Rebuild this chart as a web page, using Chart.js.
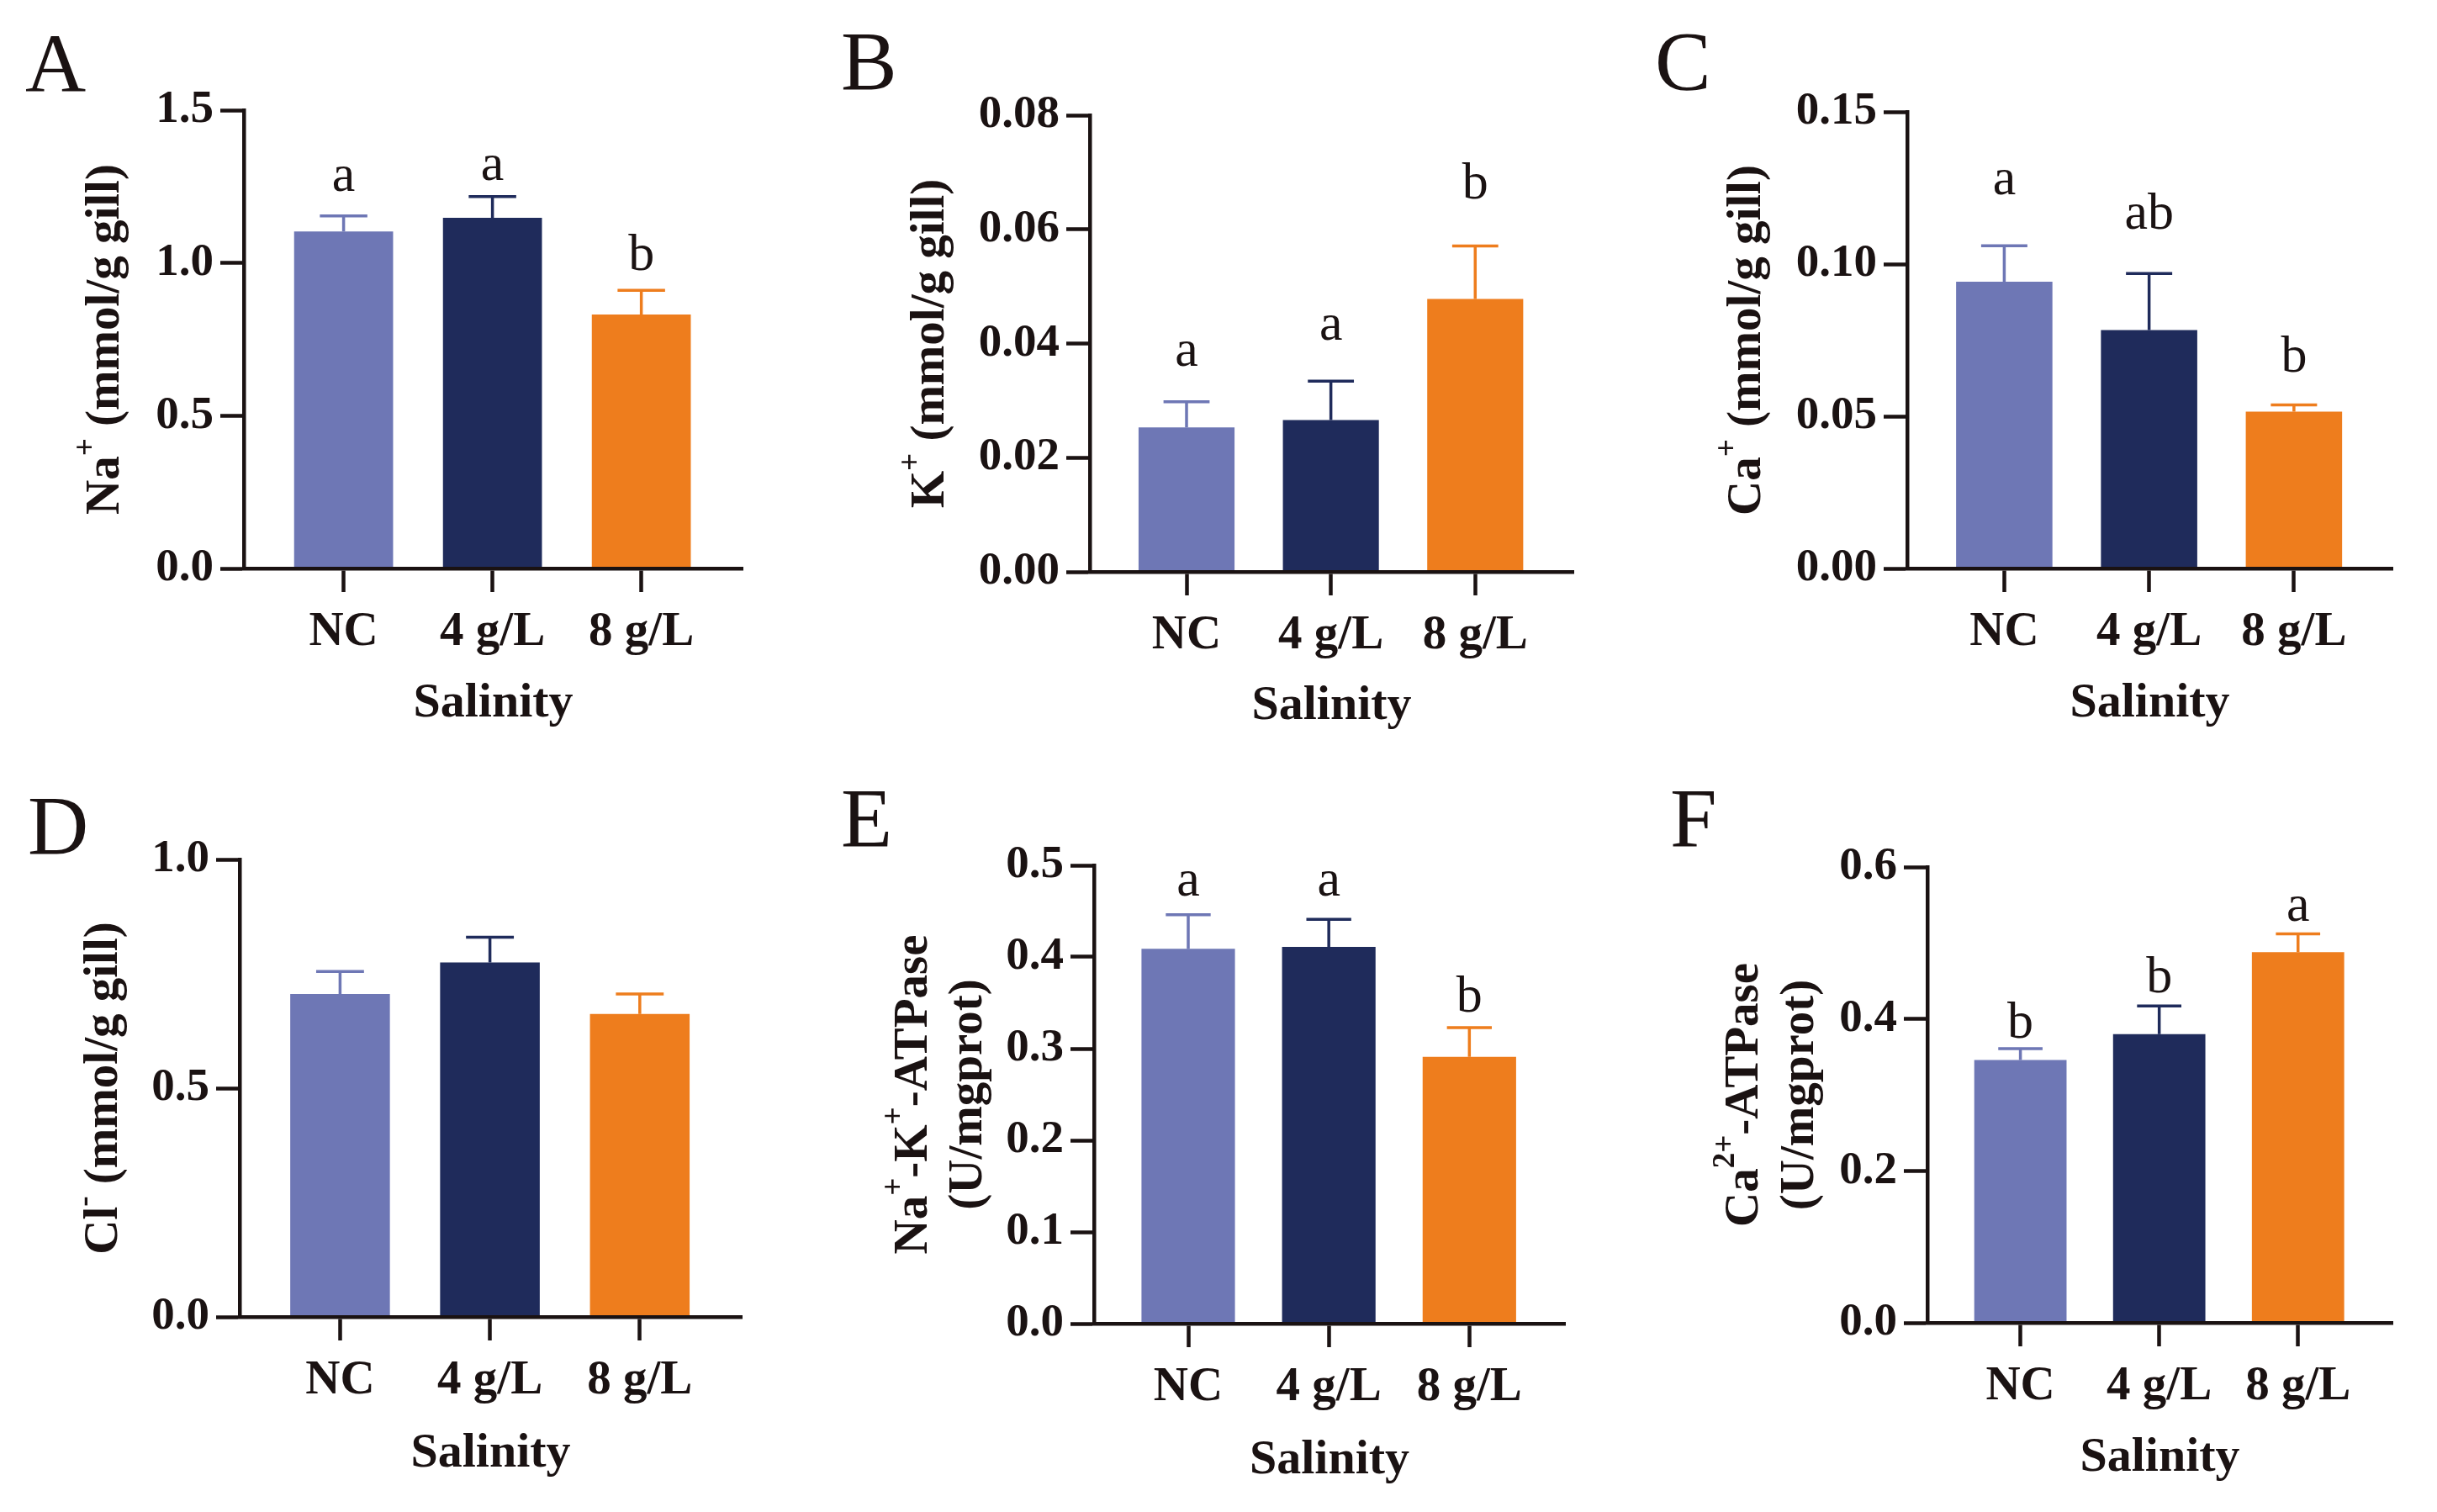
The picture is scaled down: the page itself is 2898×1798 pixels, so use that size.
<!DOCTYPE html>
<html>
<head>
<meta charset="utf-8">
<script src="https://cdn.jsdelivr.net/npm/chart.js@4.4.1/dist/chart.umd.min.js"></script>
<style>
  html, body { margin: 0; padding: 0; background: #fff; overflow: hidden; }
  #page { position: relative; width: 2898px; height: 1798px; }
  canvas { position: absolute; }
</style>
</head>
<body>
<div id="page"></div>
<script>
// groups on the x axis
const groups = ['NC', '4 g/L', '8 g/L'];

// A  Na+
const naMean = [1.103, 1.148, 0.831];
const naSd = [0.051, 0.069, 0.079];
const naTicks = [0, 0.5, 1.0, 1.5];
const naLetters = ['a', 'a', 'b'];

// B  K+
const kMean = [0.0253, 0.0266, 0.0478];
const kSd = [0.0045, 0.0068, 0.0093];
const kTicks = [0, 0.02, 0.04, 0.06, 0.08];
const kLetters = ['a', 'a', 'b'];

// C  Ca+
const caMean = [0.0942, 0.0783, 0.0515];
const caSd = [0.0118, 0.0186, 0.0022];
const caTicks = [0, 0.05, 0.10, 0.15];
const caLetters = ['a', 'ab', 'b'];

// D  Cl-
const clMean = [0.706, 0.775, 0.662];
const clSd = [0.049, 0.055, 0.044];
const clTicks = [0, 0.5, 1.0];
const clLetters = ['', '', ''];

// E  Na+-K+-ATPase
const nkaMean = [0.409, 0.411, 0.291];
const nkaSd = [0.037, 0.030, 0.032];
const nkaTicks = [0, 0.1, 0.2, 0.3, 0.4, 0.5];
const nkaLetters = ['a', 'a', 'b'];

// F  Ca2+-ATPase
const cpaMean = [0.346, 0.380, 0.488];
const cpaSd = [0.015, 0.037, 0.024];
const cpaTicks = [0, 0.2, 0.4, 0.6];
const cpaLetters = ['b', 'b', 'a'];

const barColors = ['#6E77B5', '#1F2B5B', '#EE7D1D'];
const ink = '#1a1212';
const serif = '"Times New Roman", "Liberation Serif", "DejaVu Serif", serif';

// layout per panel; each title line is a list of [text, isSuperscript]
const panels = [
  { tag: 'A', mean: naMean, sd: naSd, ticks: naTicks, dec: 1, letters: naLetters, gap: [30, 20, 24],
    title: [[['Na', 0], ['+', 1], [' (mmol/g gill)', 0]]], titleDx: [-164],
    box: [0, 0, 960, 900], yw: 290, pad: [131, 77], xh: 224, salPad: 40, tagAt: [30, 109] },
  { tag: 'B', mean: kMean, sd: kSd, ticks: kTicks, dec: 2, letters: kLetters, gap: [43, 49, 56],
    title: [[['K', 0], ['+', 1], [' (mmol/g gill)', 0]]], titleDx: [-189],
    box: [960, 0, 970, 900], yw: 336, pad: [137, 59], xh: 220, salPad: 37, tagAt: [40, 106] },
  { tag: 'C', mean: caMean, sd: caSd, ticks: caTicks, dec: 2, letters: caLetters, gap: [61, 53, 40],
    title: [[['Ca', 0], ['+', 1], [' (mmol/g gill)', 0]]], titleDx: [-190],
    box: [1930, 0, 968, 900], yw: 338, pad: [133, 53], xh: 224, salPad: 40, tagAt: [38, 106] },
  { tag: 'D', mean: clMean, sd: clSd, ticks: clTicks, dec: 1, letters: clLetters, gap: [0, 0, 0],
    title: [[['Cl', 0], ['-', 1], [' (mmol/g gill)', 0]]], titleDx: [-161],
    box: [0, 900, 960, 898], yw: 285, pad: [122, 78], xh: 232, salPad: 46, tagAt: [33, 115] },
  { tag: 'E', mean: nkaMean, sd: nkaSd, ticks: nkaTicks, dec: 1, letters: nkaLetters, gap: [23, 28, 19],
    title: [[['Na', 0], ['+', 1], ['-K', 0], ['+', 1], ['-ATPase', 0]], [['(U/mgprot)', 0]]], titleDx: [-214, -149],
    box: [960, 900, 970, 898], yw: 341, pad: [129, 69], xh: 224, salPad: 38, tagAt: [40, 106] },
  { tag: 'F', mean: cpaMean, sd: cpaSd, ticks: cpaTicks, dec: 1, letters: cpaLetters, gap: [13, 16, 15],
    title: [[['Ca', 0], ['2+', 1], ['-ATPase', 0]], [['(U/mgprot)', 0]]], titleDx: [-217, -151],
    box: [1930, 900, 968, 898], yw: 362, pad: [131, 53], xh: 225, salPad: 41, tagAt: [56, 106] }
];

function extrasPlugin(p) {
  return {
    id: 'extras',
    afterDatasetsDraw(chart) {
      const ctx = chart.ctx;
      const y = chart.scales.y;
      const meta = chart.getDatasetMeta(0);
      ctx.save();
      p.mean.forEach((m, i) => {
        const bar = meta.data[i];
        const x = bar.x;
        const half = bar.width * 0.24;
        const yBar = y.getPixelForValue(m);
        const yTop = y.getPixelForValue(m + p.sd[i]);
        ctx.strokeStyle = barColors[i];
        ctx.lineWidth = 3.5;
        ctx.beginPath();
        ctx.moveTo(x, yBar);
        ctx.lineTo(x, yTop);
        ctx.moveTo(x - half, yTop);
        ctx.lineTo(x + half, yTop);
        ctx.stroke();
        if (p.letters[i]) {
          ctx.fillStyle = ink;
          ctx.font = '62px ' + serif;
          ctx.textAlign = 'center';
          ctx.textBaseline = 'alphabetic';
          ctx.fillText(p.letters[i], x, yTop - p.gap[i]);
        }
      });
      ctx.restore();
    },
    afterDraw(chart) {
      const ctx = chart.ctx;
      const area = chart.chartArea;
      const cy = (area.top + area.bottom) / 2;
      const big = 57, small = 37;
      ctx.save();
      ctx.fillStyle = ink;
      ctx.textBaseline = 'middle';
      ctx.textAlign = 'left';
      p.title.forEach((line, li) => {
        let total = 0;
        line.forEach(([t, sup]) => {
          ctx.font = 'bold ' + (sup ? small : big) + 'px ' + serif;
          total += ctx.measureText(t).width;
        });
        ctx.save();
        ctx.translate(area.left + p.titleDx[li], cy);
        ctx.rotate(-Math.PI / 2);
        let u = -total / 2;
        line.forEach(([t, sup]) => {
          ctx.font = 'bold ' + (sup ? small : big) + 'px ' + serif;
          ctx.fillText(t, u, sup ? -23 : 0);
          u += ctx.measureText(t).width;
        });
        ctx.restore();
      });
      // panel tag
      ctx.font = '100px ' + serif;
      ctx.textBaseline = 'alphabetic';
      ctx.fillText(p.tag, p.tagAt[0], p.tagAt[1]);
      ctx.restore();
    }
  };
}

const page = document.getElementById('page');

panels.forEach(p => {
  const cv = document.createElement('canvas');
  const [bx, by, bw, bh] = p.box;
  cv.width = bw;
  cv.height = bh;
  cv.style.left = bx + 'px';
  cv.style.top = by + 'px';
  cv.style.width = bw + 'px';
  cv.style.height = bh + 'px';
  page.appendChild(cv);

  new Chart(cv.getContext('2d'), {
    type: 'bar',
    data: {
      datasets: [{
        data: p.mean.map((v, i) => ({ x: i, y: v })),
        backgroundColor: barColors,
        borderWidth: 0,
        barPercentage: 0.665,
        categoryPercentage: 1
      }]
    },
    options: {
      responsive: false,
      animation: false,
      events: [],
      layout: { padding: { top: p.pad[0], right: p.pad[1], left: 0, bottom: 0 } },
      plugins: { legend: { display: false }, tooltip: { enabled: false } },
      scales: {
        x: {
          type: 'linear',
          offset: false,
          min: -0.67,
          max: 2.68,
          afterBuildTicks: s => { s.ticks = groups.map((g, i) => ({ value: i })); },
          afterFit: s => { s.height = p.xh; },
          grid: { offset: false, drawOnChartArea: false, drawTicks: true, tickLength: 28, tickWidth: 4.5, tickColor: ink },
          border: { display: true, width: 4.5, color: ink, z: 1 },
          ticks: {
            autoSkip: false, maxRotation: 0, padding: 14, color: ink,
            font: { family: serif, size: 57, weight: 'bold' },
            callback: v => groups[v]
          },
          title: {
            display: true, text: 'Salinity', color: ink,
            font: { family: serif, size: 58, weight: 'bold', lineHeight: 0.8 },
            padding: { top: 0, bottom: p.salPad }
          }
        },
        y: {
          min: 0,
          max: p.ticks[p.ticks.length - 1],
          afterBuildTicks: s => { s.ticks = p.ticks.map(v => ({ value: v })); },
          afterFit: s => { s.width = p.yw; },
          grid: { drawOnChartArea: false, drawTicks: true, tickLength: 28, tickWidth: 4.5, tickColor: ink },
          border: { display: true, width: 4.5, color: ink, z: 1 },
          ticks: {
            padding: 8, color: ink,
            font: { family: serif, size: 55, weight: 'bold' },
            callback: v => Number(v).toFixed(p.dec)
          }
        }
      }
    },
    plugins: [extrasPlugin(p)]
  });
});
</script>
</body>
</html>
